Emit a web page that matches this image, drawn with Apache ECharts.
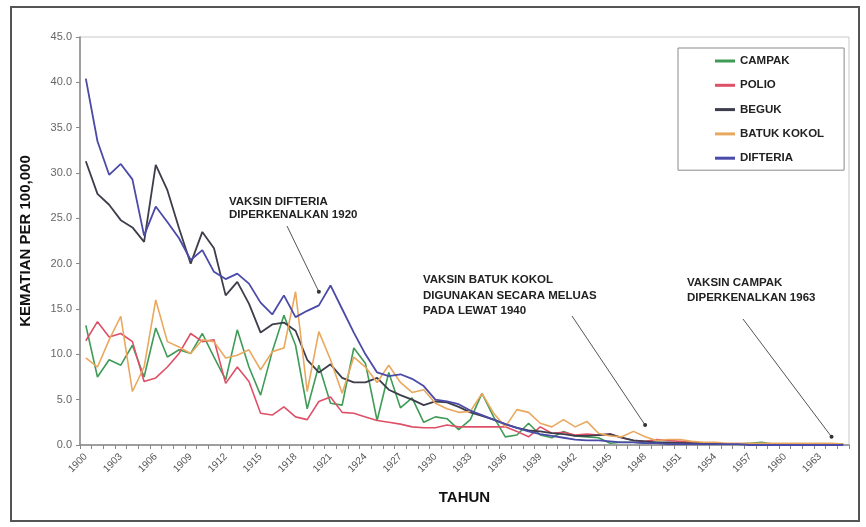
<!DOCTYPE html>
<html>
<head>
<meta charset="utf-8">
<title>Kematian per 100,000</title>
<script src="https://cdn.jsdelivr.net/npm/echarts@6/dist/echarts.min.js"></script>
<style>
	html, body { margin: 0; padding: 0; background: #fff; }
	#chart { width: 866px; height: 527px; }
</style>
</head>
<body>
<div id="chart"></div>
<script>
// tahun 1900 - 1965
const years = [];
for (let y = 1900; y <= 1965; y++) years.push(String(y));

const campak = [
	13.2, 7.5, 9.4, 8.8, 11.0, 7.5, 12.9, 9.7, 10.5, 10.1,
	12.3, 9.7, 7.2, 12.7, 8.6, 5.5, 10.3, 14.3, 11.0, 4.0,
	8.8, 4.6, 4.4, 10.7, 9.0, 2.7, 8.0, 4.1, 5.2, 2.5,
	3.1, 2.9, 1.7, 2.8, 5.7, 3.1, 0.9, 1.1, 2.4, 1.1,
	0.8, 1.5, 1.0, 0.9, 0.8, 0.2, 0.3, 0.3, 0.2, 0.3,
	0.2, 0.3, 0.2, 0.1, 0.2, 0.1, 0.1, 0.2, 0.3, 0.1,
	0.1, 0.1, 0.1, 0.1, 0.0, 0.0
];
const polio = [
	11.5, 13.6, 11.9, 12.3, 11.4, 7.0, 7.4, 8.6, 10.1, 12.3,
	11.4, 11.6, 6.8, 8.6, 7.0, 3.5, 3.3, 4.2, 3.1, 2.8,
	4.8, 5.3, 3.6, 3.5, 3.1, 2.7, 2.5, 2.3, 2.0, 1.9,
	1.9, 2.2, 2.0, 2.0, 2.0, 2.0, 2.0, 1.5, 0.9, 2.0,
	1.3, 1.4, 1.1, 1.2, 1.1, 1.2, 0.8, 0.5, 0.4, 0.6,
	0.5, 0.4, 0.3, 0.2, 0.2, 0.1, 0.1, 0.1, 0.1, 0.1,
	0.1, 0.0, 0.0, 0.0, 0.0, 0.0
];
const beguk = [
	31.3, 27.7, 26.5, 24.8, 24.0, 22.4, 30.9, 28.1, 23.9, 20.0,
	23.5, 21.7, 16.5, 18.0, 15.6, 12.4, 13.3, 13.5, 12.6, 9.4,
	8.0, 8.9, 7.4, 6.9, 6.9, 7.4, 6.1, 5.5, 5.0, 4.4,
	4.8, 4.7, 4.2, 3.6, 3.2, 2.8, 2.3, 1.9, 1.6, 1.5,
	1.3, 1.2, 1.0, 1.0, 1.1, 1.2, 0.8, 0.5, 0.4, 0.3,
	0.3, 0.2, 0.2, 0.2, 0.1, 0.1, 0.1, 0.1, 0.1, 0.1,
	0.1, 0.1, 0.1, 0.1, 0.1, 0.1
];
const batukKokol = [
	9.6, 8.6, 11.6, 14.2, 5.9, 8.6, 16.0, 11.4, 10.8, 10.1,
	11.6, 11.4, 9.6, 9.9, 10.5, 8.3, 10.3, 10.7, 16.9, 5.9,
	12.5, 9.4, 5.7, 9.7, 8.6, 6.9, 8.8, 6.9, 5.8, 6.1,
	4.6, 4.0, 3.6, 3.7, 5.7, 3.5, 2.0, 3.9, 3.6, 2.4,
	2.0, 2.8, 2.0, 2.6, 1.3, 1.0, 0.9, 1.5, 0.9, 0.5,
	0.6, 0.6, 0.4, 0.3, 0.3, 0.2, 0.2, 0.2, 0.2, 0.2,
	0.2, 0.2, 0.2, 0.2, 0.2, 0.1
];
const difteria = [
	40.4, 33.5, 29.8, 31.0, 29.3, 23.1, 26.3, 24.6, 22.8, 20.4,
	21.5, 19.1, 18.3, 18.9, 17.8, 15.7, 14.4, 16.5, 14.1, 14.8,
	15.4, 17.6, 15.0, 12.4, 10.0, 8.0, 7.6, 7.8, 7.3, 6.5,
	5.0, 4.8, 4.5, 3.8, 3.3, 2.8, 2.3, 1.9, 1.5, 1.2,
	1.0, 0.8, 0.6, 0.5, 0.5, 0.4, 0.3, 0.3, 0.2, 0.2,
	0.1, 0.1, 0.1, 0.1, 0.1, 0.1, 0.1, 0.0, 0.0, 0.0,
	0.0, 0.0, 0.0, 0.0, 0.0, 0.0
];
const yTicks = { min: 0, max: 45, step: 5 };

// nota: teks, kedudukan teks dan hujung anak panah (indeks tahun, nilai)
const notes = [
	{ lines: ['VAKSIN DIFTERIA', 'DIPERKENALKAN 1920'], x: 229, y: 202, gap: 13, from: [287, 226], tip: [20, 16.9] },
	{ lines: ['VAKSIN BATUK KOKOL', 'DIGUNAKAN SECARA MELUAS', 'PADA LEWAT 1940'], x: 423, y: 280, gap: 15.5, from: [572, 316], tip: [48.2, 2.2] },
	{ lines: ['VAKSIN CAMPAK', 'DIPERKENALKAN 1963'], x: 687, y: 283, gap: 15, from: [743, 319], tip: [63.5, 0.9] }
];

const FONT = '"Liberation Sans", Arial, sans-serif';

const chart = echarts.init(document.getElementById('chart'), null, { renderer: 'canvas' });

function line(name, data, color, width) {
	return {
		name: name,
		type: 'line',
		data: data,
		symbol: 'none',
		smooth: false,
		lineStyle: { color: color, width: width },
		itemStyle: { color: color },
		emphasis: { disabled: true }
	};
}

const option = {
	backgroundColor: '#fff',
	animation: false,
	grid: {
		left: 80,
		right: 17,
		top: 37,
		bottom: 82,
		show: true,
		borderColor: '#c8c8c8',
		borderWidth: 1,
		containLabel: false
	},
	legend: {
		orient: 'vertical',
		left: 678,
		top: 48,
		padding: [7, 20, 6, 37],
		itemGap: 12.3,
		itemWidth: 20,
		itemHeight: 3,
		icon: 'rect',
		backgroundColor: '#fff',
		borderColor: '#8a8a8a',
		borderWidth: 1,
		textStyle: { fontFamily: FONT, fontSize: 11.5, fontWeight: 'bold', color: '#222' },
		data: ['CAMPAK', 'POLIO', 'BEGUK', 'BATUK KOKOL', 'DIFTERIA']
	},
	xAxis: {
		type: 'category',
		data: years,
		boundaryGap: true,
		name: 'TAHUN',
		nameLocation: 'middle',
		nameGap: 45,
		nameTextStyle: { fontFamily: FONT, fontSize: 15, fontWeight: 'bold', color: '#111' },
		axisLine: { show: true, lineStyle: { color: '#888', width: 1.5 } },
		axisTick: { show: true, interval: 0, length: 4, lineStyle: { color: '#888' } },
		axisLabel: {
			interval: 2,
			rotate: 45,
			fontFamily: FONT,
			fontSize: 10,
			color: '#555',
			margin: 10
		},
		splitLine: { show: false }
	},
	yAxis: {
		type: 'value',
		min: yTicks.min,
		max: yTicks.max,
		interval: yTicks.step,
		name: 'KEMATIAN PER 100,000',
		nameLocation: 'middle',
		nameGap: 47,
		nameRotate: 90,
		nameTextStyle: { fontFamily: FONT, fontSize: 15, fontWeight: 'bold', color: '#111' },
		axisLine: { show: true, lineStyle: { color: '#888', width: 1.5 } },
		axisTick: { show: true, length: 4, lineStyle: { color: '#888' } },
		axisLabel: {
			fontFamily: FONT,
			fontSize: 11,
			color: '#666',
			margin: 8,
			formatter: v => v.toFixed(1)
		},
		splitLine: { show: false }
	},
	series: [
		line('CAMPAK', campak, '#3f9b55', 1.6),
		line('POLIO', polio, '#de5067', 1.6),
		line('BEGUK', beguk, '#3d3d4c', 1.8),
		line('BATUK KOKOL', batukKokol, '#e9a85e', 1.6),
		line('DIFTERIA', difteria, '#4a4aa8', 1.8)
	]
};

chart.setOption(option);

// bingkai luar dan nota anak panah
const graphics = [{
	type: 'rect',
	shape: { x: 11, y: 7, width: 848, height: 514 },
	style: { fill: 'none', stroke: '#555', lineWidth: 2 },
	silent: true,
	z: 0
}];

notes.forEach(n => {
	n.lines.forEach((t, i) => {
		graphics.push({
			type: 'text',
			x: n.x,
			y: n.y + i * n.gap,
			style: {
				text: t,
				fontFamily: FONT,
				fontSize: 11.5,
				fontWeight: 'bold',
				fill: '#222',
				textVerticalAlign: 'middle'
			},
			silent: true
		});
	});
	const tip = chart.convertToPixel({ gridIndex: 0 }, n.tip);
	graphics.push({
		type: 'line',
		shape: { x1: n.from[0], y1: n.from[1], x2: tip[0], y2: tip[1] },
		style: { stroke: '#555', lineWidth: 1 },
		silent: true
	});
	graphics.push({
		type: 'circle',
		shape: { cx: tip[0], cy: tip[1], r: 2 },
		style: { fill: '#333' },
		silent: true
	});
});

chart.setOption({ graphic: graphics });
</script>
</body>
</html>
